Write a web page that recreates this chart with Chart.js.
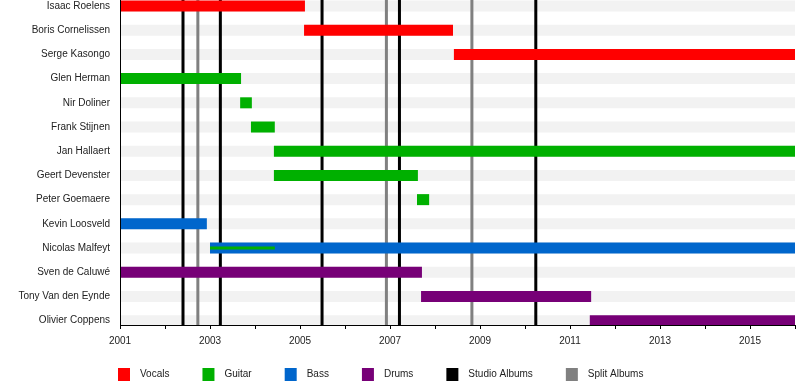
<!DOCTYPE html>
<html>
<head>
<meta charset="utf-8">
<script src="https://cdn.jsdelivr.net/npm/chart.js@4.4.1/dist/chart.umd.min.js"></script>
<style>
  html, body { margin: 0; padding: 0; background: #fff; }
  #wrap { width: 800px; height: 385px; }
</style>
</head>
<body>
<div id="wrap"><canvas id="timeline"></canvas></div>
<script>
// Band members, top to bottom
const members = [
  "Isaac Roelens", "Boris Cornelissen", "Serge Kasongo", "Glen Herman",
  "Nir Doliner", "Frank Stijnen", "Jan Hallaert", "Geert Devenster",
  "Peter Goemaere", "Kevin Loosveld", "Nicolas Malfeyt", "Sven de Caluwé",
  "Tony Van den Eynde", "Olivier Coppens"
];
const roles = [
  "Vocals", "Vocals", "Vocals", "Guitar",
  "Guitar", "Guitar", "Guitar", "Guitar",
  "Guitar", "Bass", "Bass", "Drums",
  "Drums", "Drums"
];
const startYears = [
  2001.0, 2005.09, 2008.42, 2001.0,
  2003.67, 2003.91, 2004.42, 2004.42,
  2007.6, 2001.0, 2003.0, 2001.0,
  2007.69, 2011.44
];
const endYears = [
  2005.11, 2008.4, 2016.0, 2003.69,
  2003.93, 2004.44, 2016.0, 2007.62,
  2007.87, 2002.93, 2016.0, 2007.71,
  2011.47, 2016.0
];

// Nicolas Malfeyt also played guitar for a while
const extraMember = "Nicolas Malfeyt";
const extraRole = "Guitar";
const extraStart = 2003.0;
const extraEnd = 2004.44;

const studioAlbums = [2002.40, 2003.23, 2005.49, 2007.21, 2010.24];
const splitAlbums = [2002.73, 2006.92, 2008.82];

const roleNames = ["Vocals", "Guitar", "Bass", "Drums"];
const roleColors = ["#ff0000", "#00b000", "#0066cc", "#770077"];
const legendLabels = ["Vocals", "Guitar", "Bass", "Drums", "Studio Albums", "Split Albums"];
const legendColors = ["#ff0000", "#00b000", "#0066cc", "#770077", "#000000", "#808080"];

const firstYear = 2001;
const lastYear = 2016;
const yMin = -0.248;
const yMax = 13.18;

const FONT = '"Liberation Sans", Arial, Helvetica, sans-serif';

function segment(x0, x1, row, color, width, order) {
  return {
    data: [{ x: x0, y: row }, { x: x1, y: row }],
    borderColor: color,
    borderWidth: width,
    borderCapStyle: "butt",
    pointRadius: 0,
    order: order,
  };
}

function vline(x, color) {
  return {
    data: [{ x: x, y: yMin }, { x: x, y: yMax }],
    borderColor: color,
    borderWidth: 3,
    borderCapStyle: "butt",
    pointRadius: 0,
    order: 3,
  };
}

const datasets = [];

// light gray background band for every row
members.forEach((m, i) => datasets.push(segment(firstYear, lastYear, i, "#f2f2f2", 11, 4)));

// album release lines
studioAlbums.forEach((y) => datasets.push(vline(y, "#000000")));
splitAlbums.forEach((y) => datasets.push(vline(y, "#808080")));

// member periods
members.forEach((m, i) => {
  const color = roleColors[roleNames.indexOf(roles[i])];
  datasets.push(segment(startYears[i], endYears[i], i, color, 11, 2));
});

// secondary role, thin line inside the bar
datasets.push(
  segment(extraStart, extraEnd, members.indexOf(extraMember),
    roleColors[roleNames.indexOf(extraRole)], 3, 1)
);

// legend drawn under the axis
const bottomLegend = {
  id: "bottomLegend",
  afterDraw(chart) {
    const ctx = chart.ctx;
    ctx.save();
    ctx.font = "10px " + FONT;
    ctx.textBaseline = "middle";
    let x = 118;
    const y = 374;
    legendLabels.forEach((label, i) => {
      ctx.fillStyle = legendColors[i];
      ctx.fillRect(x, y - 6, 12, 13);
      ctx.fillStyle = "#222";
      ctx.fillText(label, x + 22, y);
      x += 22 + ctx.measureText(label).width + 33;
    });
    ctx.restore();
  },
};

const ctx = document.getElementById("timeline").getContext("2d");
new Chart(ctx, {
  type: "line",
  data: { datasets: datasets },
  plugins: [bottomLegend],
  options: {
    responsive: true,
    maintainAspectRatio: false,
    animation: false,
    events: [],
    layout: { padding: { top: 0, right: 5, bottom: 0, left: 0 } },
    plugins: {
      legend: { display: false },
      tooltip: { enabled: false },
    },
    scales: {
      x: {
        type: "linear",
        min: firstYear,
        max: lastYear,
        afterBuildTicks: (axis) => {
          const ticks = [];
          for (let y = firstYear; y <= lastYear; y++) ticks.push({ value: y });
          axis.ticks = ticks;
        },
        afterFit: (axis) => {
          axis.height = 60;
          axis.paddingLeft = 0;
          axis.paddingRight = 0;
        },
        grid: {
          drawOnChartArea: false,
          drawTicks: true,
          tickLength: 4,
          color: "#000",
        },
        border: { display: true, color: "#000", width: 1, z: 1 },
        ticks: {
          autoSkip: false,
          maxRotation: 0,
          padding: 6,
          color: "#222",
          font: { family: FONT, size: 10 },
          callback: (v) => ((v - firstYear) % 2 === 0 ? String(v) : ""),
        },
      },
      y: {
        type: "linear",
        reverse: true,
        min: yMin,
        max: yMax,
        afterBuildTicks: (axis) => {
          axis.ticks = members.map((_, i) => ({ value: i }));
        },
        afterFit: (axis) => {
          axis.width = 120;
          axis.paddingTop = 0;
          axis.paddingBottom = 0;
        },
        grid: { display: false, drawTicks: false },
        border: { display: true, color: "#000", width: 1, z: 1 },
        ticks: {
          padding: 10,
          color: "#222",
          font: { family: FONT, size: 10 },
          callback: (v) => members[v],
        },
      },
    },
  },
});
</script>
</body>
</html>
